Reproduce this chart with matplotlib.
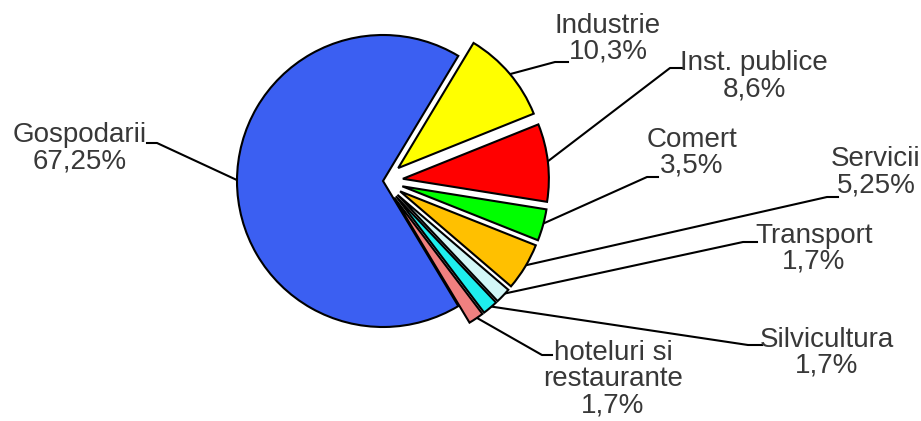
import numpy as np
from matplotlib import pyplot as plt

labels = ["Gospodarii", "hoteluri si\nrestaurante", "Silvicultura", "Transport",
          "Servicii", "Comert", "Inst. publice", "Industrie"]
values = [67.25, 1.7, 1.7, 1.7, 5.25, 3.5, 8.6, 10.3]
value_text = ["67,25%", "1,7%", "1,7%", "1,7%", "5,25%", "3,5%", "8,6%", "10,3%"]
colors = ["#3b5ff2", "#f08080", "#1eeeee", "#d2f7f7",
          "#ffc000", "#00ff00", "#ff0000", "#ffff00"]

# label layout in pixel coords (x, y from top): text centre, text-side end, bend
text_pos = [(80, 148), (613, 379), (827, 353), (814, 249),
            (876, 172), (692, 153), (754, 76), (608, 39)]
line_start = [(147, 143), (552, 355), (762, 345), (757, 242),
              (838, 197), (658, 177), (683, 68), (568, 62)]
line_bend = [(157, 143), (542, 355), (748, 345), (743, 242),
             (827, 197), (647, 177), (670, 68), (555, 62)]

W, H = 921, 421
fig = plt.figure(figsize=(W / 100, H / 100), dpi=100)
ax = fig.add_axes([0, 0, 1, 1])

cx, cy, r = 383, H - 181, 146
explode = [0] + [20] * 7   # pie explode is in data units here
gosp_frac = values[0] / sum(values)
start = 180 - gosp_frac * 360 / 2

wedges, _ = ax.pie(values, colors=colors, explode=explode, startangle=start,
                   center=(cx, cy), radius=r, frame=True,
                   wedgeprops=dict(edgecolor="black", linewidth=1.5))
ax.set_xlim(0, W)
ax.set_ylim(0, H)
ax.set_aspect("equal")
ax.axis("off")

for i, w in enumerate(wedges):
    mid = np.deg2rad((w.theta1 + w.theta2) / 2)
    wx, wy = w.center
    px = wx + (w.r - 2) * np.cos(mid)
    py = wy + (w.r - 2) * np.sin(mid)
    sx, sy = line_start[i]
    bx, by = line_bend[i]
    ax.plot([sx, bx, px], [H - sy, H - by, py], color="black", lw=1.5,
            zorder=0.5)
    tx, ty = text_pos[i]
    ax.text(tx, H - ty, labels[i] + "\n" + value_text[i], ha="center",
            va="center", multialignment="center", fontsize=20,
            family="Liberation Sans", color="#383838", linespacing=1.0)

plt.savefig("out.png", dpi=100)
